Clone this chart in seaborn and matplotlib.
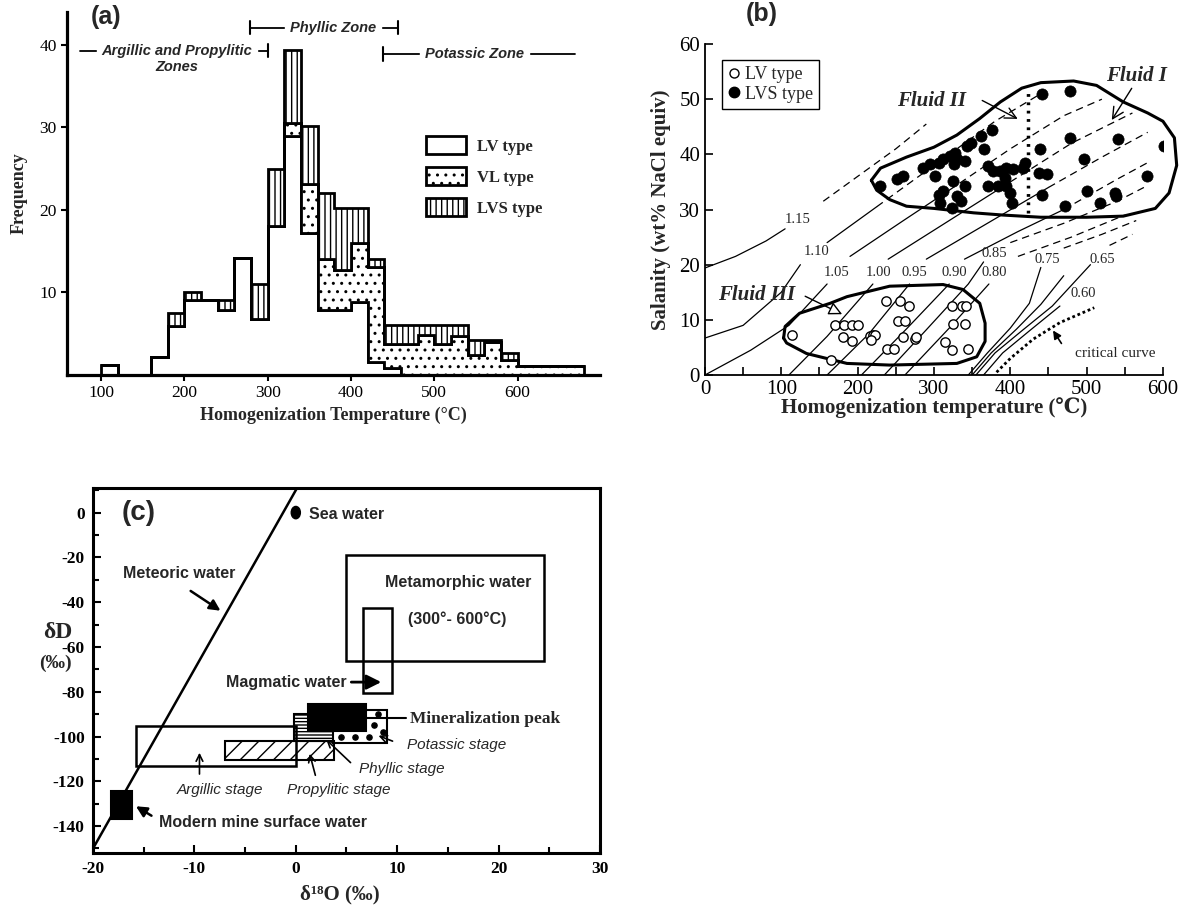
# Fluid inclusion + stable isotope figure: (a) Th histogram, (b) Th vs salinity, (c) dD vs d18O
import numpy as np
import pandas as pd
import matplotlib
matplotlib.use('Agg')
import matplotlib.pyplot as plt
import seaborn as sns
from matplotlib.patches import Patch, Rectangle, Ellipse
from matplotlib.lines import Line2D
from matplotlib.ticker import MultipleLocator

# ---------------- (a) histogram, 20 degC bins (heights per inclusion type) ----------------
bin_edges = np.arange(100, 700, 20)
lv_counts = [1.2, 0, 0, 2.2, 6, 9.1, 9.1, 7.9, 14.2, 6.8, 18, 29, 17.2, 7.9, 7.9, 8.8, 1.6, 0.8,
             0, 0, 0, 0, 0, 0, 0, 0, 0, 0, 0]
vl_counts = [0, 0, 0, 0, 0, 0, 0, 0, 0, 0, 0, 1.6, 5.9, 6.1, 4.8, 7.2, 11.5, 3.0,
             3.8, 4.8, 3.8, 4.7, 2.4, 4.0, 1.8, 1.1, 1.1, 1.1, 1.1]
lvs_counts = [0, 0, 0, 0, 1.5, 0.9, 0, 1.2, 0, 4.2, 7, 8.8, 7.1, 8.1, 7.5, 4.2, 1.0, 2.3,
              2.3, 1.3, 2.3, 1.4, 1.8, 0.2, 0.9, 0, 0, 0, 0]
hist_types = ['LV type', 'VL type', 'LVS type']

# ---------------- (b) homogenization temperature vs salinity ----------------
lv_temp = [114, 165, 170, 182, 193, 201, 181, 192, 216, 220, 223, 218, 237, 238, 248, 256, 267,
           253, 262, 260, 275, 277, 314, 324, 337, 342, 325, 341, 324, 345]
lv_salinity = [7.3, 2.8, 9.0, 9.0, 9.0, 9.0, 6.8, 6.2, 7.0, 7.2, 7.2, 6.4, 13.5, 4.7, 4.7, 13.5, 12.5,
               9.7, 9.7, 6.8, 6.6, 6.8, 6.0, 12.5, 12.5, 12.5, 9.3, 9.3, 4.5, 4.7]
lvs_temp = [229, 251, 260, 286, 295, 306, 312, 321, 328, 330, 326, 341, 343, 349, 362, 365, 376,
            301, 312, 325, 341, 306, 308, 330, 336, 323, 371, 378, 386, 395, 404, 417, 419, 371,
            384, 395, 400, 402, 393, 439, 437, 448, 441, 441, 478, 478, 496, 500, 472, 518, 541,
            537, 539, 579, 601]
lvs_salinity = [34.3, 35.6, 36.0, 37.6, 38.2, 38.5, 39.1, 39.7, 40.3, 39.1, 38.2, 38.8, 41.5, 42.1,
                43.3, 40.9, 44.5, 36.0, 33.3, 35.1, 34.3, 32.7, 31.2, 32.4, 31.5, 30.3, 37.9, 37.0,
                37.0, 37.6, 37.3, 37.6, 38.5, 34.3, 34.3, 34.3, 33.0, 31.2, 35.8, 40.9, 36.7, 36.4,
                32.7, 50.9, 51.5, 43.0, 39.1, 33.3, 30.6, 31.2, 42.7, 33.0, 32.4, 36.1, 41.5]

fluid12_T = [218, 230, 264, 300, 330, 360, 387, 415, 440, 483, 513, 548, 580, 600, 615, 618, 608,
             590, 548, 500, 440, 390, 352, 300, 264, 242, 225, 218]
fluid12_S = [35.3, 37.5, 39.5, 41.3, 43.5, 46.5, 49.5, 52.0, 53.0, 53.3, 52.5, 49.5, 47.5, 46.0,
             43.0, 38.0, 33.0, 30.2, 28.8, 28.6, 28.6, 29.0, 29.4, 30.2, 30.6, 31.8, 33.5, 35.3]
fluid3_T = [103, 105, 124, 164, 186, 242, 312, 338, 360, 367, 367, 356, 330, 242, 186, 133, 107, 103]
fluid3_S = [6.7, 8.8, 11.2, 13.0, 14.2, 16.1, 16.4, 15.5, 13.0, 9.4, 6.1, 3.3, 2.1, 1.8, 2.1, 3.9,
            5.8, 6.7]
divide_T = [423, 423]
divide_S = [29.4, 51.2]

# isochores (g/cm3): lower solid part, upper solid part, upper dashed part, label position
iso_lower = {
    '1.15': ([0, 40, 80, 105], [19.4, 21.5, 24.3, 26.5]),
    '1.10': ([0, 50, 100, 125], [6.7, 9.0, 15.0, 20.0]),
    '1.05': ([0, 60, 110, 160], [0, 4.5, 9.0, 16.5]),
    '1.00': ([110, 160, 220], [0, 7.0, 16.5]),
    '0.95': ([160, 215, 268], [0, 7.5, 16.5]),
    '0.90': ([205, 265, 320], [0, 8.5, 16.5]),
    '0.85': ([235, 290, 345, 365], [0, 8.2, 16.5, 20.5]),
    '0.80': ([262, 320, 372], [0, 8.5, 16.5]),
    '0.75': ([345, 370, 400, 425, 440], [0, 4.0, 8.5, 13.0, 19.5]),
    '0.70': ([350, 375, 408, 440, 470], [0, 4.0, 8.3, 12.8, 18.0]),
    '0.65': ([355, 380, 415, 455, 505], [0, 4.0, 8.0, 12.5, 20.0]),
    '0.60': ([365, 390, 425, 465], [0, 4.0, 8.0, 12.5]),
}
iso_upper = {
    '1.10': ([160, 225], [24.0, 30.5]),
    '1.05': ([190, 260, 320], [21.5, 28.0, 33.5]),
    '1.00': ([240, 320, 400], [21.0, 28.0, 35.0]),
    '0.95': ([290, 370, 450], [21.0, 27.5, 34.0]),
    '0.90': ([340, 410, 470], [21.0, 26.0, 30.0]),
}
iso_dashed = {
    '1.15': ([155, 250, 290], [31.5, 41.0, 45.5]),
    '1.10': ([225, 300, 380, 440], [30.5, 38.0, 46.0, 51.0]),
    '1.05': ([320, 400, 470, 520], [33.5, 41.0, 47.0, 50.0]),
    '1.00': ([400, 480, 560], [35.0, 42.0, 47.5]),
    '0.95': ([450, 520, 580], [34.0, 39.5, 44.0]),
    '0.90': ([470, 540, 580], [30.0, 35.5, 38.5]),
    '0.85': ([400, 470, 540, 575], [24.0, 27.5, 31.5, 34.0]),
    '0.80': ([410, 480, 550], [21.5, 25.0, 29.0]),
    '0.75': ([470, 520, 565], [23.0, 25.5, 28.0]),
    '0.65': ([530, 560], [23.5, 25.5]),
}
iso_label_pos = {
    '1.15': (122, 28.2), '1.10': (146, 22.4), '1.05': (172, 18.5), '1.00': (227, 18.5),
    '0.95': (275, 18.5), '0.90': (327, 18.5), '0.85': (379, 22.1), '0.80': (379, 18.5),
    '0.75': (448, 20.9), '0.65': (520, 20.9), '0.60': (495, 14.8),
}
critical_T = [382, 400, 430, 465, 510]
critical_S = [0.5, 3.0, 6.5, 9.5, 12.2]

# ---------------- (c) dD vs d18O ----------------
meteoric_x = [-20, 0.125]
meteoric_y = [-150, 11]
sea_water = (0, 0)
# name: (x0, x1, y0, y1)
iso_boxes = {
    'metamorphic': (5.0, 24.5, -66.4, -19.0),
    'magmatic': (6.6, 9.5, -80.5, -42.5),
    'argillic': (-15.8, 0.0, -113.1, -95.5),
    'propylitic': (-7.0, 3.8, -110.7, -102.2),
    'phyllic': (-0.2, 3.8, -102.2, -90.0),
    'potassic': (3.7, 9.0, -103.0, -88.0),
    'peak': (1.2, 6.9, -97.6, -85.4),
    'modern': (-18.2, -16.2, -136.7, -124.3),
}
potassic_dot_x = [8.1, 7.7, 8.6, 4.5, 5.8, 7.2]
potassic_dot_y = [-90.0, -94.8, -98.0, -100.4, -100.4, -100.4]

# ---------------- style ----------------
sns.set_theme(style='ticks')
plt.rcParams['font.family'] = ['Liberation Serif', 'DejaVu Serif']
plt.rcParams['axes.unicode_minus'] = False
plt.rcParams['hatch.linewidth'] = 1.0
plt.rcParams['hatch.color'] = 'black'
SANS = ['Liberation Sans', 'DejaVu Sans']

fig = plt.figure(figsize=(11.85, 9.08), dpi=100)
ax_a = fig.add_axes([0.0565, 0.587, 0.4498, 0.3998])
ax_b = fig.add_axes([0.5949, 0.587, 0.3865, 0.3645])
ax_c = fig.add_axes([0.0785, 0.0606, 0.4278, 0.402])

# ======== (a) ========
lv = np.array(lv_counts)
vl = np.array(vl_counts)
lvs = np.array(lvs_counts)
ax_a.stairs(lv, bin_edges, baseline=0, fill=True, facecolor='white', edgecolor='black', lw=2)
ax_a.stairs(lv + vl, bin_edges, baseline=lv, fill=True, facecolor='white', edgecolor='black',
            hatch='..', lw=2)
ax_a.stairs(lv + vl + lvs, bin_edges, baseline=lv + vl, fill=True, facecolor='white',
            edgecolor='black', hatch='|||', lw=2)
ax_a.set_xlim(59, 699)
ax_a.set_ylim(0, 44)
ax_a.set_xticks(range(100, 700, 100))
ax_a.set_yticks([10, 20, 30, 40])
ax_a.tick_params(direction='out', length=4, width=1.5, labelsize=12.5, colors='black')
for s in ['top', 'right']:
    ax_a.spines[s].set_visible(False)
for s in ['left', 'bottom']:
    ax_a.spines[s].set_linewidth(2.3)
    ax_a.spines[s].set_color('black')
ax_a.set_xlabel('Homogenization Temperature (°C)', fontsize=13, fontweight='bold', labelpad=4)
ax_a.set_ylabel('Frequency', fontsize=13, fontweight='bold', labelpad=8)

hatches = [None, '..', '|||']
handles = [Patch(facecolor='white', edgecolor='black', lw=2, hatch=h, label=t)
           for h, t in zip(hatches, hist_types)]
ax_a.legend(handles=handles, loc='upper left', bbox_to_anchor=(0.645, 0.70), frameon=False,
            handlelength=2.4, handleheight=1.3, labelspacing=0.75, handletextpad=0.7,
            prop={'family': 'Liberation Serif', 'weight': 'bold', 'size': 12})

zone_kw = dict(fontsize=10.5, fontweight='bold', fontstyle='italic', family=SANS, va='center')
# Argillic and Propylitic zones bracket
ax_a.plot([75, 300], [39.3, 39.3], color='black', lw=1.3, clip_on=False)
ax_a.plot([300, 300], [38.5, 40.1], color='black', lw=1.5, clip_on=False)
ax_a.text(191, 39.3, 'Argillic and Propylitic', ha='center', backgroundcolor='white', **zone_kw)
ax_a.text(191, 37.3, 'Zones', ha='center', **zone_kw)
# Phyllic zone bracket
ax_a.plot([279, 456], [42.1, 42.1], color='black', lw=1.3, clip_on=False)
ax_a.plot([279, 279], [41.3, 42.9], color='black', lw=1.5, clip_on=False)
ax_a.plot([456, 456], [41.3, 42.9], color='black', lw=1.5, clip_on=False)
ax_a.text(378, 42.1, 'Phyllic Zone', ha='center', backgroundcolor='white', **zone_kw)
# Potassic zone bracket
ax_a.plot([438, 669], [38.9, 38.9], color='black', lw=1.3, clip_on=False)
ax_a.plot([438, 438], [38.1, 39.7], color='black', lw=1.5, clip_on=False)
ax_a.text(548, 38.9, 'Potassic Zone', ha='center', backgroundcolor='white', **zone_kw)
ax_a.text(88, 43.4, '(a)', fontsize=18, fontweight='bold', family=SANS, va='center', ha='left')

# ======== (b) ========
for key, (tt, ss) in iso_lower.items():
    ax_b.plot(tt, ss, color='black', lw=0.9)
for key, (tt, ss) in iso_upper.items():
    ax_b.plot(tt, ss, color='black', lw=0.9)
for key, (tt, ss) in iso_dashed.items():
    ax_b.plot(tt, ss, color='black', lw=0.9, ls=(0, (6, 4)))
for key, (tx, ty) in iso_label_pos.items():
    ax_b.text(tx, ty, key, fontsize=10.5, ha='center', va='center')
ax_b.plot(critical_T, critical_S, color='black', lw=2, ls=(0, (1, 1)))
ax_b.annotate('', xy=(454, 8.5), xytext=(469, 5.3),
              arrowprops=dict(arrowstyle='-|>', color='black', lw=1.2, mutation_scale=12))
ax_b.text(537, 3.9, 'critical curve', fontsize=11, ha='center', va='center')

ax_b.plot(fluid12_T, fluid12_S, color='black', lw=2.2, clip_on=False)
ax_b.plot(fluid3_T, fluid3_S, color='black', lw=2.2)
ax_b.plot(divide_T, divide_S, color='black', lw=2.5, ls=(0, (0.8, 1.6)))

pts_lv = pd.DataFrame({'T': lv_temp, 'S': lv_salinity})
pts_lvs = pd.DataFrame({'T': lvs_temp, 'S': lvs_salinity})
sns.scatterplot(data=pts_lv, x='T', y='S', ax=ax_b, s=45, marker='o', facecolor='white',
                edgecolor='black', linewidth=1.0, zorder=5)
sns.scatterplot(data=pts_lvs, x='T', y='S', ax=ax_b, s=65, marker='o', color='black',
                edgecolor='black', linewidth=0.5, zorder=5)

fluid_kw = dict(fontsize=15, fontweight='bold', fontstyle='italic', ha='center', va='center')
ax_b.text(297, 49.6, 'Fluid II', **fluid_kw)
ax_b.text(565, 54.2, 'Fluid I', **fluid_kw)
ax_b.text(68, 14.5, 'Fluid III', **fluid_kw)
ax_b.annotate('', xy=(413, 46.2), xytext=(360, 50.0),
              arrowprops=dict(arrowstyle='->', color='black', lw=1.0, mutation_scale=20))
ax_b.annotate('', xy=(531, 45.8), xytext=(561, 52.4),
              arrowprops=dict(arrowstyle='->', color='black', lw=1.0, mutation_scale=20))
ax_b.annotate('', xy=(183, 10.8), xytext=(128, 14.5),
              arrowprops=dict(arrowstyle='-|>', color='black', fc='white', lw=1.0,
                              mutation_scale=20))
ax_b.text(75, 65.5, '(b)', fontsize=18, fontweight='bold', family=SANS, ha='center',
          va='center')

ax_b.set_xlim(0, 600)
ax_b.set_ylim(0, 60)
ax_b.xaxis.set_major_locator(MultipleLocator(100))
ax_b.xaxis.set_minor_locator(MultipleLocator(50))
ax_b.set_yticks(range(0, 70, 10))
ax_b.tick_params(which='both', direction='in', colors='black', labelsize=15, width=1.2)
ax_b.tick_params(which='major', length=6)
ax_b.tick_params(which='minor', length=6)
for s in ['top', 'right']:
    ax_b.spines[s].set_visible(False)
for s in ['left', 'bottom']:
    ax_b.spines[s].set_linewidth(1.3)
    ax_b.spines[s].set_color('black')
ax_b.set_xlabel('Homogenization temperature (℃)', fontsize=15, fontweight='bold', labelpad=-1)
ax_b.set_ylabel('Salanity (wt% NaCl equiv)', fontsize=15, fontweight='bold', labelpad=6)

leg_handles = [Line2D([], [], marker='o', ls='', mfc='white', mec='black', ms=6.5, label='LV type'),
               Line2D([], [], marker='o', ls='', mfc='black', mec='black', ms=7.5, label='LVS type')]
leg = ax_b.legend(handles=leg_handles, loc='upper left', bbox_to_anchor=(0.018, 0.98),
                  frameon=True, edgecolor='black', fancybox=False, framealpha=1,
                  handlelength=0.6, handletextpad=0.3, borderpad=0.35, labelspacing=0.15,
                  prop={'family': 'Liberation Serif', 'size': 13})
leg.get_frame().set_linewidth(1.0)

# ======== (c) ========
ax_c.set_xlim(-20, 30)
ax_c.set_ylim(-152, 11)
ax_c.plot(meteoric_x, meteoric_y, color='black', lw=1.8)
ax_c.add_patch(Ellipse(sea_water, 0.9, 5.5, color='black'))

def box(name, **kw):
    x0, x1, y0, y1 = iso_boxes[name]
    ax_c.add_patch(Rectangle((x0, y0), x1 - x0, y1 - y0, **kw))

box('metamorphic', fill=False, edgecolor='black', lw=1.8)
box('magmatic', fill=False, edgecolor='black', lw=1.8)
box('phyllic', facecolor='white', edgecolor='black', hatch='-----', lw=1.5)
box('potassic', facecolor='white', edgecolor='black', lw=1.5)
ax_c.scatter(potassic_dot_x, potassic_dot_y, s=14, color='black', zorder=3)
box('propylitic', fill=False, edgecolor='black', hatch='//', lw=1.5)
box('argillic', fill=False, edgecolor='black', lw=1.8)
box('peak', facecolor='black', edgecolor='black', lw=1.5, zorder=4)
box('modern', facecolor='black', edgecolor='black', lw=1.5)

bold_sans = dict(fontsize=11.5, fontweight='bold', family=SANS, va='center')
ital_sans = dict(fontsize=11, fontstyle='italic', family=SANS, va='center')
filled = dict(arrowstyle='-|>', color='black', lw=1.8, mutation_scale=16)
opened = dict(arrowstyle='->', color='black', lw=1.2, mutation_scale=12)

ax_c.text(1.3, -1.0, 'Sea water', ha='left', **bold_sans)
ax_c.text(-11.5, -27.3, 'Meteoric water', ha='center', **bold_sans)
ax_c.annotate('', xy=(-7.2, -44.5), xytext=(-10.6, -34.3), arrowprops=filled)
ax_c.text(16.0, -31.0, 'Metamorphic water', ha='center', **bold_sans)
ax_c.text(15.9, -47.8, '(300°- 600°C)', ha='center', **bold_sans)
ax_c.text(5.0, -75.7, 'Magmatic water', ha='right', **bold_sans)
ax_c.annotate('', xy=(8.7, -75.7), xytext=(5.2, -75.7),
              arrowprops=dict(arrowstyle='-|>', color='black', lw=2, mutation_scale=22))
ax_c.plot([6.9, 10.9], [-91.8, -91.8], color='black', lw=1.5)
ax_c.text(11.3, -92.0, 'Mineralization peak', ha='left', va='center', fontsize=12.5,
          fontweight='bold')
ax_c.text(15.9, -104.0, 'Potassic stage', ha='center', **ital_sans)
ax_c.annotate('', xy=(7.9, -99.2), xytext=(9.8, -102.5), arrowprops=opened)
ax_c.text(10.5, -114.5, 'Phyllic stage', ha='center', **ital_sans)
ax_c.annotate('', xy=(2.8, -100.5), xytext=(5.6, -112.5), arrowprops=opened)
ax_c.text(4.2, -124.0, 'Propylitic stage', ha='center', **ital_sans)
ax_c.annotate('', xy=(1.3, -106.5), xytext=(2.0, -118.5), arrowprops=opened)
ax_c.text(-7.5, -124.0, 'Argillic stage', ha='center', **ital_sans)
ax_c.annotate('', xy=(-9.5, -106.0), xytext=(-9.5, -118.0), arrowprops=opened)
ax_c.text(-13.5, -138.5, 'Modern mine surface water', ha='left', **bold_sans)
ax_c.annotate('', xy=(-16.0, -130.5), xytext=(-14.0, -136.0), arrowprops=filled)
ax_c.text(-15.5, 0.0, '(c)', fontsize=20, fontweight='bold', family=SANS, ha='center',
          va='center')

ax_c.xaxis.set_major_locator(MultipleLocator(10))
ax_c.xaxis.set_minor_locator(MultipleLocator(5))
ax_c.yaxis.set_major_locator(MultipleLocator(20))
ax_c.yaxis.set_minor_locator(MultipleLocator(10))
ax_c.set_yticks(range(-140, 1, 20))
ax_c.tick_params(which='both', direction='in', colors='black', labelsize=12.5, width=1.5)
ax_c.tick_params(which='major', length=6, pad=6)
ax_c.tick_params(which='minor', length=4)
for lab in ax_c.get_xticklabels() + ax_c.get_yticklabels():
    lab.set_fontweight('bold')
for s in ax_c.spines.values():
    s.set_linewidth(2.2)
    s.set_color('black')
ax_c.text(-0.07, 0.605, 'δD', transform=ax_c.transAxes, fontsize=17, fontweight='bold',
          ha='center', va='center')
ax_c.text(-0.075, 0.52, '(‰)', transform=ax_c.transAxes, fontsize=14, fontweight='bold',
          ha='center', va='center')
ax_c.text(0.487, -0.115, 'δ¹⁸O (‰)', transform=ax_c.transAxes, fontsize=15,
          fontweight='bold', ha='center', va='center')

fig.savefig('out.png', dpi=100, facecolor='white')
